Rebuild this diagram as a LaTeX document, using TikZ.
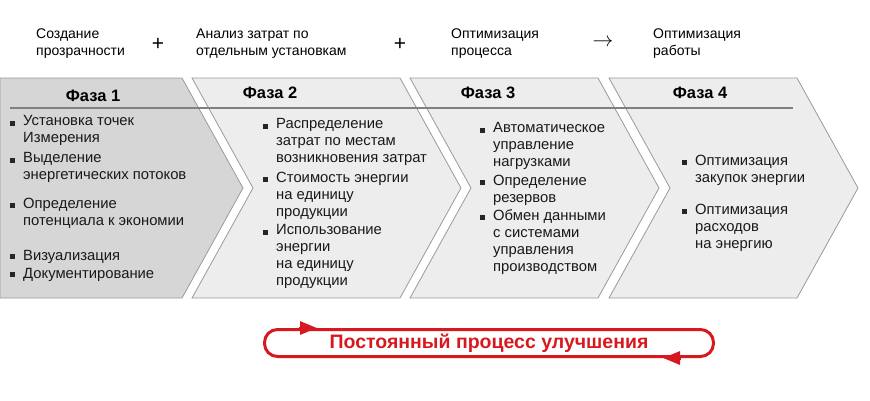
\documentclass[tikz,border=0pt]{standalone}
\usepackage{fontspec}
\setmainfont{Liberation Sans}
\usetikzlibrary{arrows.meta, positioning}

\definecolor{phasedark}{HTML}{D6D6D6}
\definecolor{phaselight}{HTML}{EDEDED}
\definecolor{chevline}{HTML}{9A9A9A}
\definecolor{loopred}{HTML}{D7191F}

\begin{document}
\begin{tikzpicture}[x=1pt,y=-1pt,
	chevron/.style={draw=chevline, line width=0.8pt},
	phase/.style={font=\bfseries\fontsize{16.5}{19}\selectfont},
	head/.style={anchor=north west, align=left, inner sep=0pt, font=\fontsize{14}{17}\selectfont, execute at begin node=\strut},
	item/.style={anchor=north west, align=left, inner sep=0pt, text=black!90, font=\fontsize{14.8}{17}\selectfont, execute at begin node=\strut},
	sq/.style={fill=black!85, minimum size=5pt, inner sep=0pt},
	sign/.style={font=\fontsize{21}{21}\selectfont},
	redtip/.style={-{Triangle[length=17pt,width=13pt]}, loopred, line width=3pt}]
	
	\useasboundingbox (0,0) rectangle (870,400);
	
	\draw [chevron, fill=phasedark] (0,78) -- (182,78) -- (243,188) -- (182,298) -- (0,298) -- cycle;
	\draw [chevron, fill=phaselight] (192,78) -- (400,78) -- (461,188) -- (400,298) -- (192,298) -- (253,188) -- cycle;
	\draw [chevron, fill=phaselight] (410,78) -- (598,78) -- (659,188) -- (598,298) -- (410,298) -- (471,188) -- cycle;
	\draw [chevron, fill=phaselight] (609,78) -- (797,78) -- (858,188) -- (797,298) -- (609,298) -- (670,188) -- cycle;
	\draw [black!50, line width=2pt] (10,108) -- (793,108);
	
	\node (h1) [head] at (36,29) {Создание\\прозрачности};
	\node (h2) [head] at (196,29) {Анализ затрат по\\отдельным установкам};
	\node (h3) [head] at (451,29) {Оптимизация\\процесса};
	\node (h4) [head] at (653,29) {Оптимизация\\работы};
	\node (s1) [sign] at (158,44) {+};
	\node (s2) [sign] at (400,44) {+};
	\node (s3) [sign] at (603,43) {$\rightarrow$};
	
	\node (f1) [phase] at (93,96) {Фаза 1};
	\node (f2) [phase] at (270,93) {Фаза 2};
	\node (f3) [phase] at (488,93) {Фаза 3};
	\node (f4) [phase] at (700,93) {Фаза 4};
	
	\node (a1) [item] at (23,115.6) {Установка точек\\Измерения};
	\node (a2) [item] at (23,152.6) {Выделение\\энергетических потоков};
	\node (a3) [item] at (23,197.6) {Определение\\потенциала к экономии};
	\node (a4) [item] at (23,248.6) {Визуализация};
	\node (a5) [item] at (23,266.6) {Документирование};
	
	\node (b1) [item] at (276,118.6) {Распределение\\затрат по местам\\возникновения затрат};
	\node (b2) [item] at (276,171.6) {Стоимость энергии\\на единицу\\продукции};
	\node (b3) [item] at (276,224.6) {Использование\\энергии\\на единицу\\продукции};
	
	\node (c1) [item] at (493,122.6) {Автоматическое\\управление\\нагрузками};
	\node (c2) [item] at (493,174.6) {Определение\\резервов};
	\node (c3) [item] at (493,209.6) {Обмен данными\\с системами\\управления\\производством};
	
	\node (d1) [item] at (695,154.6) {Оптимизация\\закупок энергии};
	\node (d2) [item] at (695,203.6) {Оптимизация\\расходов\\на энергию};
	
	\foreach \t in {a1,a2,a3,a4,a5,b1,b2,b3,c1,c2,c3,d1,d2}
		\node [sq] at ([xshift=-11pt,yshift=-7.6pt]\t.north west) {};
	
	\node (loop) [draw=loopred, line width=3pt, rounded corners=13pt, minimum width=449pt, minimum height=27pt, text=loopred, font=\bfseries\fontsize{19.5}{21}\selectfont] at (489,343) {Постоянный процесс улучшения};
	\draw [redtip] ([xshift=36pt]loop.north west) -- ([xshift=54pt]loop.north west);
	\draw [redtip] ([xshift=-34pt]loop.south east) -- ([xshift=-52pt]loop.south east);
	
\end{tikzpicture}
\end{document}
